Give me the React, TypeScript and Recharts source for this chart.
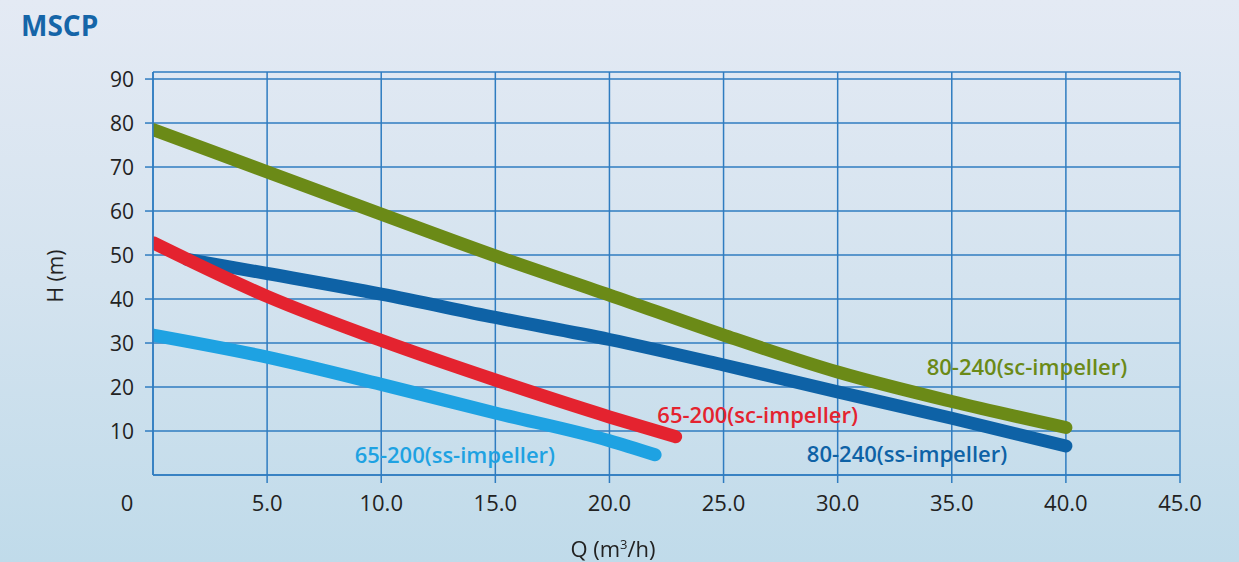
import React from 'react';
import { ComposedChart, Line, XAxis, YAxis, CartesianGrid, ReferenceDot } from 'recharts';

// Q (m3/h) vs H (m)
const green80Sc = [
  { q: 0, h: 78.5 }, { q: 5, h: 68.9 }, { q: 10, h: 59.3 }, { q: 15, h: 49.8 },
  { q: 20, h: 40.9 }, { q: 25, h: 31.8 }, { q: 30, h: 23.4 }, { q: 35, h: 16.7 }, { q: 40, h: 10.8 },
];
const blue80Ss = [
  { q: 1.5, h: 49.0 }, { q: 5, h: 45.8 }, { q: 10, h: 41.1 }, { q: 15, h: 35.8 },
  { q: 20, h: 30.8 }, { q: 25, h: 25.0 }, { q: 30, h: 18.9 }, { q: 35, h: 12.9 }, { q: 40, h: 6.6 },
];
const red65Sc = [
  { q: 0, h: 52.8 }, { q: 5, h: 40.6 }, { q: 10, h: 30.6 }, { q: 15, h: 21.6 },
  { q: 20, h: 13.2 }, { q: 22.9, h: 8.7 },
];
const cyan65Ss = [
  { q: 0, h: 31.8 }, { q: 5, h: 26.8 }, { q: 10, h: 20.6 }, { q: 15, h: 14.1 },
  { q: 20, h: 7.8 }, { q: 22, h: 4.6 },
];

const xTicks = [0, 5, 10, 15, 20, 25, 30, 35, 40, 45];
const yTicks = [10, 20, 30, 40, 50, 60, 70, 80, 90];

const seriesLabels = [
  { text: '80-240(sc-impeller)', q: 33.9, h: 22.7, color: '#6b8a17' },
  { text: '65-200(sc-impeller)', q: 22.1, h: 11.8, color: '#e4232f' },
  { text: '80-240(ss-impeller)', q: 28.65, h: 2.95, color: '#0e62a6' },
  { text: '65-200(ss-impeller)', q: 8.84, h: 2.65, color: '#1ea2e2' },
];

const GRID = '#2f7cc0';
const FONT = '"Open Sans", "Noto Sans", sans-serif';

const XTick = (props: any) => {
  const { x, y, payload } = props;
  if (payload.value === 0) {
    return (
      <text x={x - 26} y={y + 36} textAnchor="middle" fontSize={22} fill="#222" fontFamily={FONT}>0</text>
    );
  }
  return (
    <g>
      <line x1={x} y1={y} x2={x} y2={y + 8} stroke={GRID} strokeWidth={1.5} />
      <text x={x} y={y + 36} textAnchor="middle" fontSize={22} fill="#222" fontFamily={FONT}>
        {payload.value.toFixed(1)}
      </text>
    </g>
  );
};

const YTick = (props: any) => {
  const { x, y, payload } = props;
  return (
    <g>
      <line x1={x - 8} y1={y} x2={x} y2={y} stroke={GRID} strokeWidth={1.5} />
      <text x={x - 19} y={y + 8} textAnchor="end" fontSize={21} fill="#222" fontFamily={FONT}>
        {payload.value}
      </text>
    </g>
  );
};

const SeriesLabel = (color: string, text: string) => (props: any) => {
  const { viewBox } = props;
  return (
    <text x={viewBox.x} y={viewBox.y} fontSize={22} fontWeight={600} fill={color} fontFamily={FONT}>
      {text}
    </text>
  );
};

const App: React.FC = () => {
  return (
    <div
      style={{
        position: 'fixed', left: 0, top: 0, width: 1239, height: 562,
        background: 'linear-gradient(to bottom, #e4eaf4 0%, #d4e3ef 50%, #c0dbea 100%)',
        fontFamily: FONT,
      }}
    >
      <div style={{ position: 'absolute', left: 21, top: 6, fontSize: 28, fontWeight: 700, color: '#1565a8' }}>
        MSCP
      </div>
      <ComposedChart width={1239} height={562} margin={{ top: 72, right: 59, bottom: 0, left: 0 }}>
        <CartesianGrid stroke={GRID} strokeWidth={1.5} fill="none" />
        <XAxis
          type="number"
          dataKey="q"
          domain={[0, 45]}
          ticks={xTicks}
          interval={0}
          tickSize={0}
          tickMargin={0}
          tickLine={false}
          axisLine={{ stroke: GRID, strokeWidth: 1.5 }}
          tick={<XTick />}
          height={87}
          allowDataOverflow
        />
        <YAxis
          type="number"
          dataKey="h"
          domain={[0, 91.6]}
          ticks={yTicks}
          interval={0}
          width={153}
          tickSize={0}
          tickMargin={0}
          tickLine={false}
          axisLine={{ stroke: GRID, strokeWidth: 1.5 }}
          tick={<YTick />}
          allowDataOverflow
        />
        <Line data={green80Sc} dataKey="h" type="monotone" stroke="#6b8a17" strokeWidth={13} strokeLinecap="round" dot={false} isAnimationActive={false} />
        <Line data={blue80Ss} dataKey="h" type="monotone" stroke="#0e62a6" strokeWidth={13} strokeLinecap="round" dot={false} isAnimationActive={false} />
        <Line data={red65Sc} dataKey="h" type="monotone" stroke="#e4232f" strokeWidth={13} strokeLinecap="round" dot={false} isAnimationActive={false} />
        <Line data={cyan65Ss} dataKey="h" type="monotone" stroke="#1ea2e2" strokeWidth={13} strokeLinecap="round" dot={false} isAnimationActive={false} />
        {seriesLabels.map((l) => (
          <ReferenceDot key={l.text} x={l.q} y={l.h} r={0} fill="none" stroke="none" label={SeriesLabel(l.color, l.text)} />
        ))}
      </ComposedChart>
      <div style={{ position: 'absolute', left: 55, top: 276, transform: 'translate(-50%, -50%) rotate(-90deg)', fontSize: 21, color: '#222', whiteSpace: 'nowrap' }}>
        H (m)
      </div>
      <div style={{ position: 'absolute', left: 613, top: 548, transform: 'translate(-50%, -50%)', fontSize: 22, color: '#222', whiteSpace: 'nowrap' }}>
        Q (m<sup style={{ fontSize: 13 }}>3</sup>/h)
      </div>
    </div>
  );
};

export default App;
